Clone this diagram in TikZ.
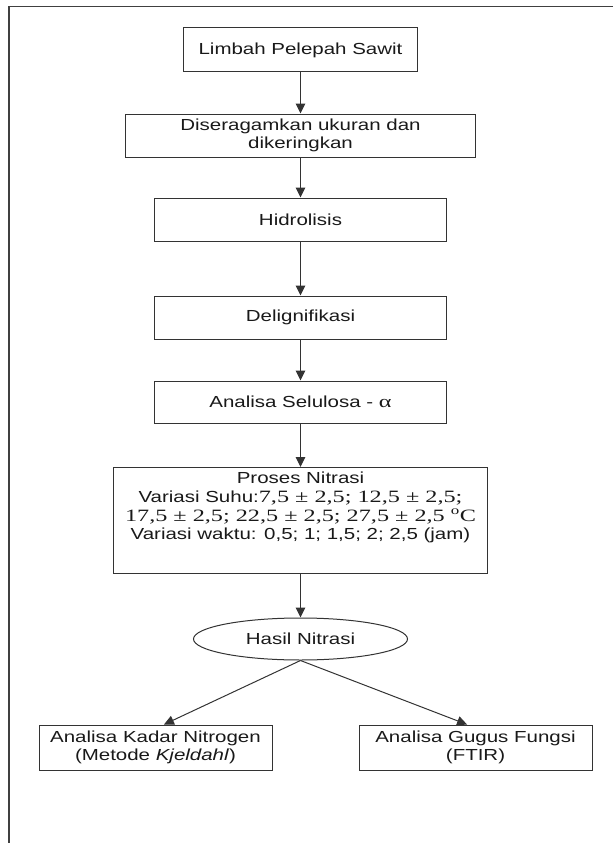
\documentclass[tikz,border=0pt]{standalone}
\usepackage{fontspec}
\setmainfont[FakeStretch=1.28]{Liberation Sans}
\newfontfamily\tmsf[FakeStretch=1.4]{Liberation Serif}
\newcommand{\tms}{\tmsf\fontsize{17.3}{18.5}\selectfont}
\usetikzlibrary{arrows.meta,shapes.geometric,calc}
\begin{document}
\begin{tikzpicture}[x=1pt,y=-1pt,
  box/.style={draw=black!80, line width=1pt, rectangle, inner sep=0pt, align=center,
    font=\fontsize{16}{18.7}\selectfont, text=black!90},
  txt/.style={inner sep=0pt, align=center, font=\fontsize{16}{18.7}\selectfont, text=black!90},
  flow/.style={draw=black!80, line width=1pt, -{Triangle[length=10pt,width=9.5pt]}},
  frame/.style={draw=black!75, line width=1.5pt}
]
\useasboundingbox (0,0) rectangle (613,843);
\draw[frame] (613,6.7) -- (9,6.7) -- (9,843);

\node[box, minimum width=233.5pt, minimum height=44pt] (b1) at (300.5,50) {Limbah Pelepah Sawit};
\node[box, minimum width=350pt, minimum height=43pt] (b2) at (300.5,135.5) {Diseragamkan ukuran dan\\dikeringkan};
\node[box, minimum width=292pt, minimum height=43pt] (b3) at (300.5,219.5) {Hidrolisis};
\node[box, minimum width=292pt, minimum height=43pt] (b4) at (300.5,317.5) {Delignifikasi};
\node[box, minimum width=292pt, minimum height=42pt] (b5) at (300.5,402) {Analisa Selulosa - {\tms α}};
\node[box, minimum width=374pt, minimum height=106pt, anchor=north] (b6) at (300.5,467) {};
\node[txt, anchor=north] (b6t) at ($(b6.north)+(0,5)$) {Proses Nitrasi\\
Variasi Suhu:{\tms 7,5 ± 2,5; 12,5 ± 2,5;}\\
{\tms 17,5 ± 2,5; 22,5 ± 2,5; 27,5 ± 2,5 \textsuperscript{o}C}\\
Variasi waktu: 0,5; 1; 1,5; 2; 2,5 (jam)};
\node[box, ellipse, minimum width=214pt, minimum height=42pt] (el) at (300.5,639) {Hasil Nitrasi};
\node[box, minimum width=233pt, minimum height=45pt] (b7) at (155.5,747.5) {Analisa Kadar Nitrogen\\(Metode \textit{Kjeldahl})};
\node[box, minimum width=233pt, minimum height=45pt] (b8) at (475.5,747.5) {Analisa Gugus Fungsi\\(FTIR)};

\draw[flow] (b1.south) -- (b2.north);
\draw[flow] (b2.south) -- (b3.north);
\draw[flow] (b3.south) -- (b4.north);
\draw[flow] (b4.south) -- (b5.north);
\draw[flow] (b5.south) -- (b6.north);
\draw[flow] (b6.south) -- (el.north);
\draw[flow] (el.south) -- ($(b7.north west)!0.536!(b7.north east)$);
\draw[flow] (el.south) -- ($(b8.north west)!0.464!(b8.north east)$);
\end{tikzpicture}
\end{document}
